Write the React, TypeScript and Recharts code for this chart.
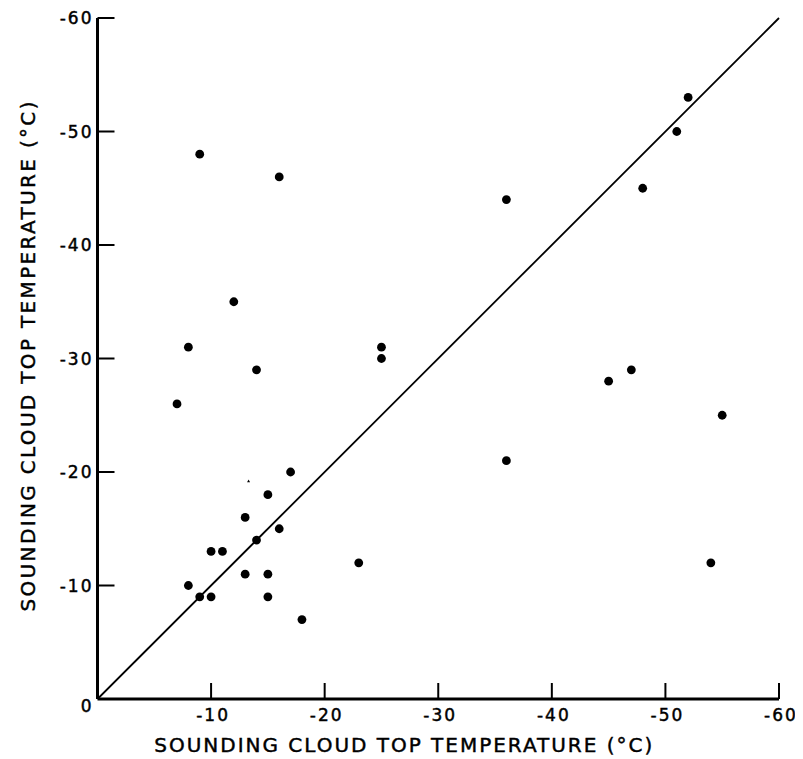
import React from 'react';
import { ScatterChart, Scatter, XAxis, YAxis, ReferenceLine, Label } from 'recharts';

// Cloud top temperatures (°C)
const xTemps = [-9, -16, -12, -8, -25, -25, -14, -7, -17, -15, -13, -16, -14, -10, -11, -23, -13, -15, -8, -9, -10, -15, -18, -36, -55, -54, -52, -51, -48, -36, -47, -45];
const yTemps = [-48, -46, -35, -31, -31, -30, -29, -26, -20, -18, -16, -15, -14, -13, -13, -12, -11, -11, -10, -9, -9, -9, -7, -21, -25, -12, -53, -50, -45, -44, -29, -28];

// small stray mark near the cluster
const faintX = [-13.3];
const faintY = [-19.2];

const xTicks = [-10, -20, -30, -40, -50, -60];
const yTicks = [0, -10, -20, -30, -40, -50, -60];
const identityEnds = [0, -60];

const axisTitle = 'SOUNDING CLOUD TOP TEMPERATURE (°C)';

const points = xTemps.map((x, i) => ({ x, y: yTemps[i] }));
const faintPoints = faintX.map((x, i) => ({ x, y: faintY[i] }));

const FONT = '"DejaVu Sans", "Liberation Sans", sans-serif';
const textStyle = { fontFamily: FONT, fill: '#000', stroke: '#000', strokeWidth: 0.45 };

const XTick = (props: any) => {
  const { x, y, payload } = props;
  return (
    <g>
      <line x1={x} y1={y} x2={x} y2={y - 16} stroke="#000" strokeWidth={2} />
      <text x={x + 2} y={y + 22} textAnchor="middle" fontSize={17} letterSpacing={2} style={textStyle}>
        {String(payload.value)}
      </text>
    </g>
  );
};

const YTick = (props: any) => {
  const { x, y, payload } = props;
  const isZero = payload.value === 0;
  return (
    <g>
      {!isZero && <line x1={x} y1={y} x2={x + 17} y2={y} stroke="#000" strokeWidth={2} />}
      <text x={x - 4} y={y + 6 + (isZero ? 7 : 0)} textAnchor="end" fontSize={17} letterSpacing={2} style={textStyle}>
        {String(payload.value)}
      </text>
    </g>
  );
};

const Dot = (props: any) => <circle cx={props.cx} cy={props.cy} r={4.4} fill="#000" />;
const Speck = (props: any) => (
  <path d={`M${props.cx},${props.cy - 1.6} L${props.cx + 1.5},${props.cy + 1.2} L${props.cx - 1.5},${props.cy + 1.2} Z`} fill="#000" />
);

const XTitle = (props: any) => {
  const vb = props.viewBox;
  const cx = vb.x + vb.width / 2 - 35;
  const cy = vb.y + 53;
  return (
    <text x={cx} y={cy} textAnchor="middle" fontSize={20} textLength={498} lengthAdjust="spacing" style={textStyle}>
      {axisTitle}
    </text>
  );
};

const YTitle = (props: any) => {
  const vb = props.viewBox;
  const cx = vb.x - 10;
  const cy = vb.y + vb.height / 2 - 2;
  return (
    <text
      x={cx}
      y={cy}
      transform={`rotate(-90, ${cx}, ${cy})`}
      textAnchor="middle"
      dominantBaseline="central"
      fontSize={20}
      textLength={510}
      lengthAdjust="spacing"
      style={textStyle}
    >
      {axisTitle}
    </text>
  );
};

export default function App() {
  return (
    <ScatterChart width={795} height={751} margin={{ top: 10, right: 24, bottom: 0, left: 29.5 }} style={{ background: '#fff' }}>
      <XAxis
        type="number"
        dataKey="x"
        domain={[-60, 0]}
        reversed
        ticks={xTicks}
        interval={0}
        tickSize={0}
        tickMargin={0}
        tickLine={false}
        tick={<XTick />}
        height={60}
        axisLine={{ stroke: '#000', strokeWidth: 3 }}
      >
        <Label content={<XTitle />} />
      </XAxis>
      <YAxis
        type="number"
        dataKey="y"
        domain={[-60, 0]}
        reversed
        ticks={yTicks}
        interval={0}
        tickSize={0}
        tickMargin={0}
        tickLine={false}
        tick={<YTick />}
        width={60}
        axisLine={{ stroke: '#000', strokeWidth: 3 }}
      >
        <Label content={<YTitle />} />
      </YAxis>
      <ReferenceLine
        segment={[
          { x: identityEnds[0], y: identityEnds[0] },
          { x: identityEnds[1], y: identityEnds[1] },
        ]}
        stroke="#000"
        strokeWidth={1.8}
        ifOverflow="visible"
      />
      <Scatter data={points} shape={<Dot />} isAnimationActive={false} />
      <Scatter data={faintPoints} shape={<Speck />} isAnimationActive={false} />
    </ScatterChart>
  );
}
